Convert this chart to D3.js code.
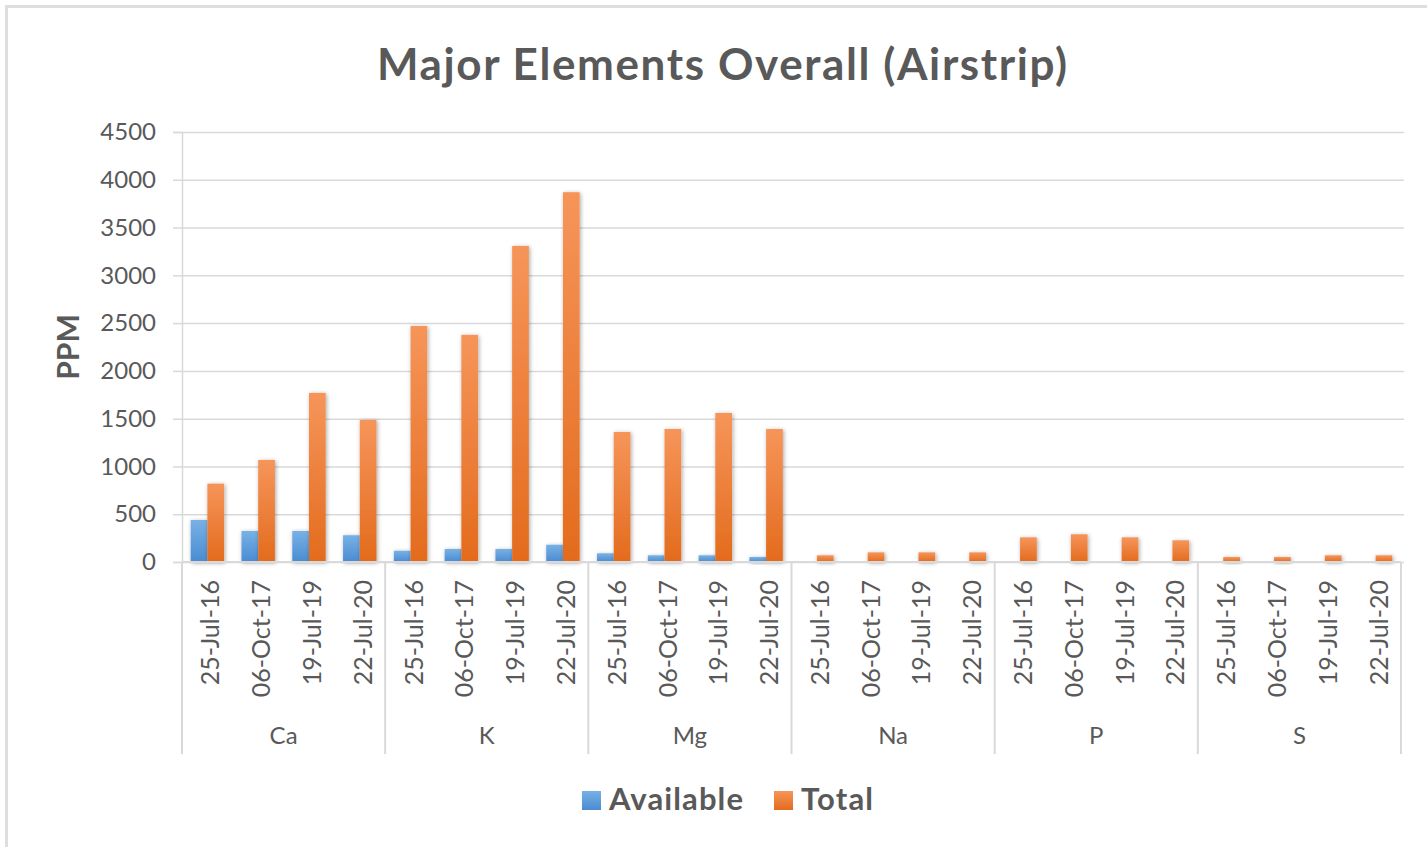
<!DOCTYPE html>
<html><head><meta charset="utf-8">
<script src="https://cdn.jsdelivr.net/npm/d3@7"></script>
<style>body{margin:0;background:#fff;} text{font-family:Lato,"Open Sans","Liberation Sans",sans-serif;}</style>
</head><body>
<svg id="c" width="1427" height="847"></svg>
<script>
const elements = ["Ca","K","Mg","Na","P","S"];
const dates = ["25-Jul-16","06-Oct-17","19-Jul-19","22-Jul-20"];
const seriesNames = ["Available","Total"];
const availableValues = [
  [440,325,325,280],
  [118,136,136,181],
  [91,70,70,52],
  [0,0,0,0],
  [0,0,0,0],
  [0,0,0,0]
];
const totalValues = [
  [820,1068,1770,1487],
  [2470,2377,3308,3870],
  [1361,1392,1560,1392],
  [70,101,101,101],
  [258,290,258,227],
  [52,52,70,70]
];
const yTickValues = [0,500,1000,1500,2000,2500,3000,3500,4000,4500];
const yTitle = "PPM";
const chartTitle = "Major Elements Overall (Airstrip)";

const svg = d3.select("#c");
const textColor = "#595959", lineColor = "#d9d9d9";
const L = 182, R = 1401, T = 132, B = 562;

// frame
svg.append("rect").attr("x",6.5).attr("y",6.5).attr("width",1500).attr("height",1000)
  .attr("fill","none").attr("stroke","#dedede").attr("stroke-width",3);

// defs
const defs = svg.append("defs");
const grads = [["gBlue","#78b1e5","#4a8bd2"],["gOrange","#f6955a","#e36b1d"]];
grads.forEach(([id,c1,c2])=>{
  const g = defs.append("linearGradient").attr("id",id).attr("x1",0).attr("y1",0).attr("x2",0).attr("y2",1);
  g.append("stop").attr("offset","0%").attr("stop-color",c1);
  g.append("stop").attr("offset","100%").attr("stop-color",c2);
});
const f = defs.append("filter").attr("id","sh").attr("x","-50%").attr("y","-50%").attr("width","200%").attr("height","200%");
f.append("feDropShadow").attr("dx",1).attr("dy",1).attr("stdDeviation",2).attr("flood-color","#000").attr("flood-opacity",0.35);

// data rows
const rows = [];
elements.forEach((el,i)=>dates.forEach((d,j)=>{
  rows.push({key:el+"|"+d, el, date:d, values:[availableValues[i][j], totalValues[i][j]]});
}));

const x = d3.scaleBand().domain(rows.map(r=>r.key)).range([L,R]).paddingInner(0).paddingOuter(0);
const xs = d3.scaleBand().domain(seriesNames).range([0,x.bandwidth()]).paddingInner(0).paddingOuter(0.52);
const xg = d3.scaleBand().domain(elements).range([L,R]);
const y = d3.scaleLinear().domain([0,4500]).range([B,T]);

// gridlines
svg.append("g").attr("transform",`translate(${L},0)`)
  .call(d3.axisLeft(y).tickValues(yTickValues).tickSize(-(1404-L)).tickFormat(""))
  .call(g=>{g.select(".domain").remove(); g.selectAll("line").attr("stroke",lineColor).attr("stroke-width",1.5);});

// y axis
svg.append("g").attr("transform",`translate(${L},0)`)
  .call(d3.axisLeft(y).tickValues(yTickValues).tickSize(9).tickPadding(17).tickFormat(d3.format("d")))
  .call(g=>{
    g.select(".domain").attr("stroke",lineColor).attr("stroke-width",1.5);
    g.selectAll("line").attr("stroke",lineColor).attr("stroke-width",1.5);
    g.selectAll("text").attr("fill",textColor).attr("font-size",24).attr("font-family","Lato, 'Open Sans', sans-serif");
  });

// bars
const bars = svg.append("g");
rows.forEach(r=>{
  seriesNames.forEach((s,k)=>{
    const v = r.values[k];
    if (v <= 0) return;
    bars.append("rect")
      .attr("x", x(r.key)+xs(s))
      .attr("y", y(v))
      .attr("width", xs.bandwidth())
      .attr("height", y(0)-y(v))
      .attr("fill", k===0 ? "url(#gBlue)" : "url(#gOrange)")
      .attr("filter","url(#sh)");
  });
});

// x axis line and group dividers
svg.append("line").attr("x1",L).attr("x2",R).attr("y1",B).attr("y2",B).attr("stroke",lineColor).attr("stroke-width",2);
const bounds = elements.map(e=>xg(e)).concat([R]);
svg.append("g").selectAll("line").data(bounds).join("line")
  .attr("x1",d=>d).attr("x2",d=>d).attr("y1",B).attr("y2",754)
  .attr("stroke",lineColor).attr("stroke-width",2);

// date labels
svg.append("g").selectAll("text").data(rows).join("text")
  .attr("transform",r=>`translate(${x(r.key)+x.bandwidth()/2+2},580) rotate(-90)`)
  .attr("text-anchor","end").attr("dominant-baseline","central")
  .attr("fill",textColor).attr("font-size",25)
  .text(r=>r.date);

// group labels
svg.append("g").selectAll("text").data(elements).join("text")
  .attr("x",e=>xg(e)+xg.bandwidth()/2).attr("y",744)
  .attr("text-anchor","middle").attr("fill",textColor).attr("font-size",24)
  .text(e=>e);

// title
svg.append("text").attr("x",722).attr("y",80).attr("text-anchor","middle")
  .attr("fill",textColor).attr("font-weight","bold").attr("font-size",44)
  .attr("textLength",690).attr("lengthAdjust","spacing")
  .text(chartTitle);

// y title
svg.append("text").attr("transform","translate(79,347) rotate(-90)").attr("text-anchor","middle")
  .attr("fill",textColor).attr("font-weight","bold").attr("font-size",30)
  .text(yTitle);

// legend
const legend = svg.append("g");
const legendItems = [
  {name:seriesNames[0], fill:"url(#gBlue)", sx:582, tx:609, w:134},
  {name:seriesNames[1], fill:"url(#gOrange)", sx:774, tx:801, w:72}
];
legendItems.forEach(it=>{
  legend.append("rect").attr("x",it.sx).attr("y",791).attr("width",19).attr("height",19).attr("fill",it.fill);
  legend.append("text").attr("x",it.tx).attr("y",810).attr("fill",textColor)
    .attr("font-weight","bold").attr("font-size",31)
    .attr("textLength",it.w).attr("lengthAdjust","spacing").text(it.name);
});
</script>
</body></html>
